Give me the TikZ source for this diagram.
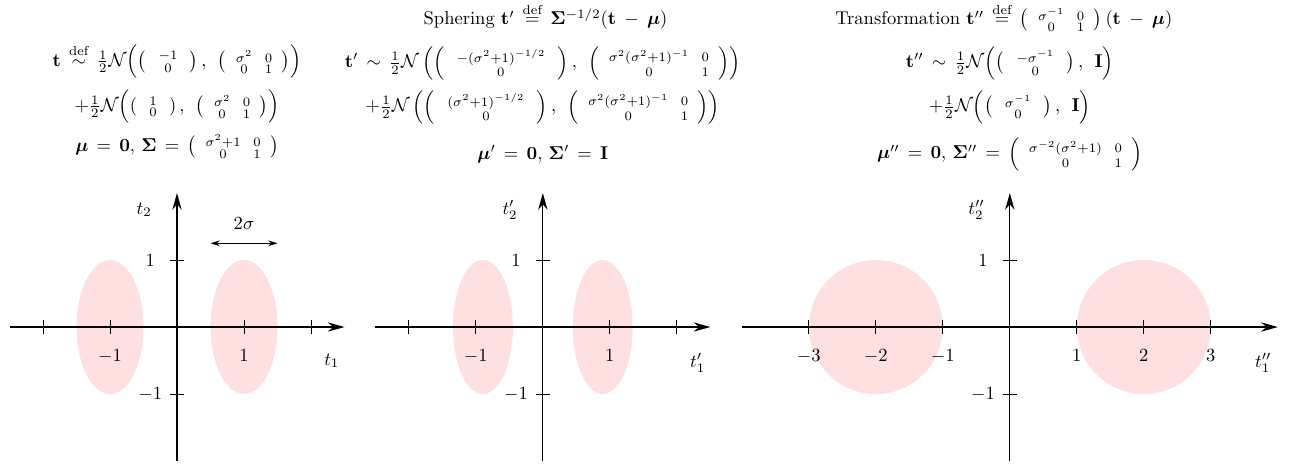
\documentclass[tikz,border=0pt]{standalone}
\usepackage{amsmath,amsfonts,amssymb,bm}
\usetikzlibrary{arrows.meta,positioning}
\tikzset{
  axis/.style={semithick,-{Stealth[length=9pt,width=5pt]}},
  tick/.style={line width=0.5pt},
  blob/.style={fill=red!12},
  dimarrow/.style={semithick,{Stealth[length=5pt,width=3pt]}-{Stealth[length=5pt,width=3pt]}},
  title/.style={anchor=base,inner sep=1pt},
}
\newcommand{\vect}[2]{\left(\hspace{5pt}\begin{smallmatrix}#1\\#2\end{smallmatrix}\hspace{5pt}\right)}
\newcommand{\mat}[4]{\left(\hspace{3.5pt}\begin{smallmatrix}#1&\hspace{4pt}#2\\#3&\hspace{4pt}#4\end{smallmatrix}\hspace{3.5pt}\right)}
\thickmuskip=8mu plus 5mu
\medmuskip=8mu plus 2mu minus 4mu
\begin{document}
\begin{tikzpicture}[x=1.27cm,y=1.27cm]
\useasboundingbox (-2.642,-2.075) rectangle (16.806,4.881);

% original data
\fill[blob] (-1,0) ellipse (0.5 and 1);
\fill[blob] (1,0) ellipse (0.5 and 1);
\draw[axis] (-2.5,0) -- (2.5,0);
\draw[axis] (0,-2) -- (0,2);
\foreach \x in {-2,2} \draw[tick] (\x,0.1) -- (\x,-0.1);
\foreach \x in {-1,1} {
  \draw[tick] (\x,0.1) -- (\x,-0.1) node[below=3pt] (ax\x) {$\x\strut$};
}
\foreach \y in {-1,1} {
  \draw[tick] (-0.1,\y) -- (0.1,\y);
  \node (ay\y) at (-0.4,\y) {$\y$};
}
\node[anchor=north east] (at1) at (2.52,-0.3) {$t_1$};
\node[anchor=east] (at2) at (-0.28,1.75) {$t_2$};
\coordinate (sigL) at (0.5,1.25);
\coordinate (sigR) at (1.5,1.25);
\draw[dimarrow] (sigL) -- node[above=4pt] (sig) {$2\sigma$} (sigR);
\node (eqA1) at (0,3.96) {$\mathbf{t}\stackrel{\text{def}}{\sim}\frac{1}{2}\mathcal{N}\Bigl(\vect{-1}{0},\;\mat{\sigma^2}{0}{0}{1}\Bigr)$};
\node (eqA2) at (0,3.288) {$+\frac{1}{2}\mathcal{N}\Bigl(\vect{1}{0},\;\mat{\sigma^2}{0}{0}{1}\Bigr)$};
\node (eqA3) at (0,2.691) {$\bm{\mu}=\mathbf{0},\,\bm{\Sigma}=\mat{\sigma^2+1}{0}{0}{1}$};

% sphering
\begin{scope}[shift={(5.46,0)}]
\fill[blob] (-0.894,0) ellipse (0.447 and 1);
\fill[blob] (0.894,0) ellipse (0.447 and 1);
\draw[axis] (-2.5,0) -- (2.5,0);
\draw[axis] (0,-2) -- (0,2);
\foreach \x in {-2,2} \draw[tick] (\x,0.1) -- (\x,-0.1);
\foreach \x in {-1,1} {
  \draw[tick] (\x,0.1) -- (\x,-0.1) node[below=3pt] (bx\x) {$\x\strut$};
}
\foreach \y in {-1,1} {
  \draw[tick] (-0.1,\y) -- (0.1,\y);
  \node (by\y) at (-0.4,\y) {$\y$};
}
\node[anchor=north east] (bt1) at (2.52,-0.3) {$t'_1$};
\node[anchor=east] (bt2) at (-0.28,1.75) {$t'_2$};
\node[title] (titleB) at (0.04,4.51) {Sphering $\mathbf{t}'\stackrel{\text{def}}{=}\bm{\Sigma}^{-1/2}(\mathbf{t}-\bm{\mu})$};
\node (eqB1) at (0,3.94) {$\mathbf{t}'\sim\frac{1}{2}\mathcal{N}\left(\vect{-(\sigma^2+1)^{-1/2}}{0},\;\mat{\sigma^2(\sigma^2+1)^{-1}}{0}{0}{1}\right)$};
\node (eqB2) at (0,3.284) {$+\frac{1}{2}\mathcal{N}\left(\vect{(\sigma^2+1)^{-1/2}}{0},\;\mat{\sigma^2(\sigma^2+1)^{-1}}{0}{0}{1}\right)$};
\node (eqB3) at (0,2.58) {$\bm{\mu}'=\mathbf{0},\,\bm{\Sigma}'=\mathbf{I}$};
\end{scope}

% transformation
\begin{scope}[shift={(12.43,0)}]
\fill[blob] (-2,0) circle (1);
\fill[blob] (2,0) circle (1);
\draw[axis] (-4,0) -- (4,0);
\draw[axis] (0,-2) -- (0,2);
\foreach \x in {-3,-2,-1,1,2,3} {
  \draw[tick] (\x,0.1) -- (\x,-0.1) node[below=3pt] (cx\x) {$\x\strut$};
}
\foreach \y in {-1,1} {
  \draw[tick] (-0.1,\y) -- (0.1,\y);
  \node (cy\y) at (-0.4,\y) {$\y$};
}
\node[anchor=north east] (ct1) at (4.0,-0.3) {$t''_1$};
\node[anchor=east] (ct2) at (-0.28,1.75) {$t''_2$};
\node[title] (titleC) at (-0.09,4.51) {Transformation $\mathbf{t}''\stackrel{\text{def}}{=}\mat{\sigma^{-1}}{0}{0}{1}(\mathbf{t}-\bm{\mu})$};
\node (eqC1) at (0,3.94) {$\mathbf{t}''\sim\frac{1}{2}\mathcal{N}\Bigl(\vect{-\sigma^{-1}}{0},\;\mathbf{I}\Bigr)$};
\node (eqC2) at (0,3.284) {$+\frac{1}{2}\mathcal{N}\Bigl(\vect{\sigma^{-1}}{0},\;\mathbf{I}\Bigr)$};
\node (eqC3) at (0,2.58) {$\bm{\mu}''=\mathbf{0},\,\bm{\Sigma}''=\mat{\sigma^{-2}(\sigma^2+1)}{0}{0}{1}$};
\end{scope}
\end{tikzpicture}
\end{document}
